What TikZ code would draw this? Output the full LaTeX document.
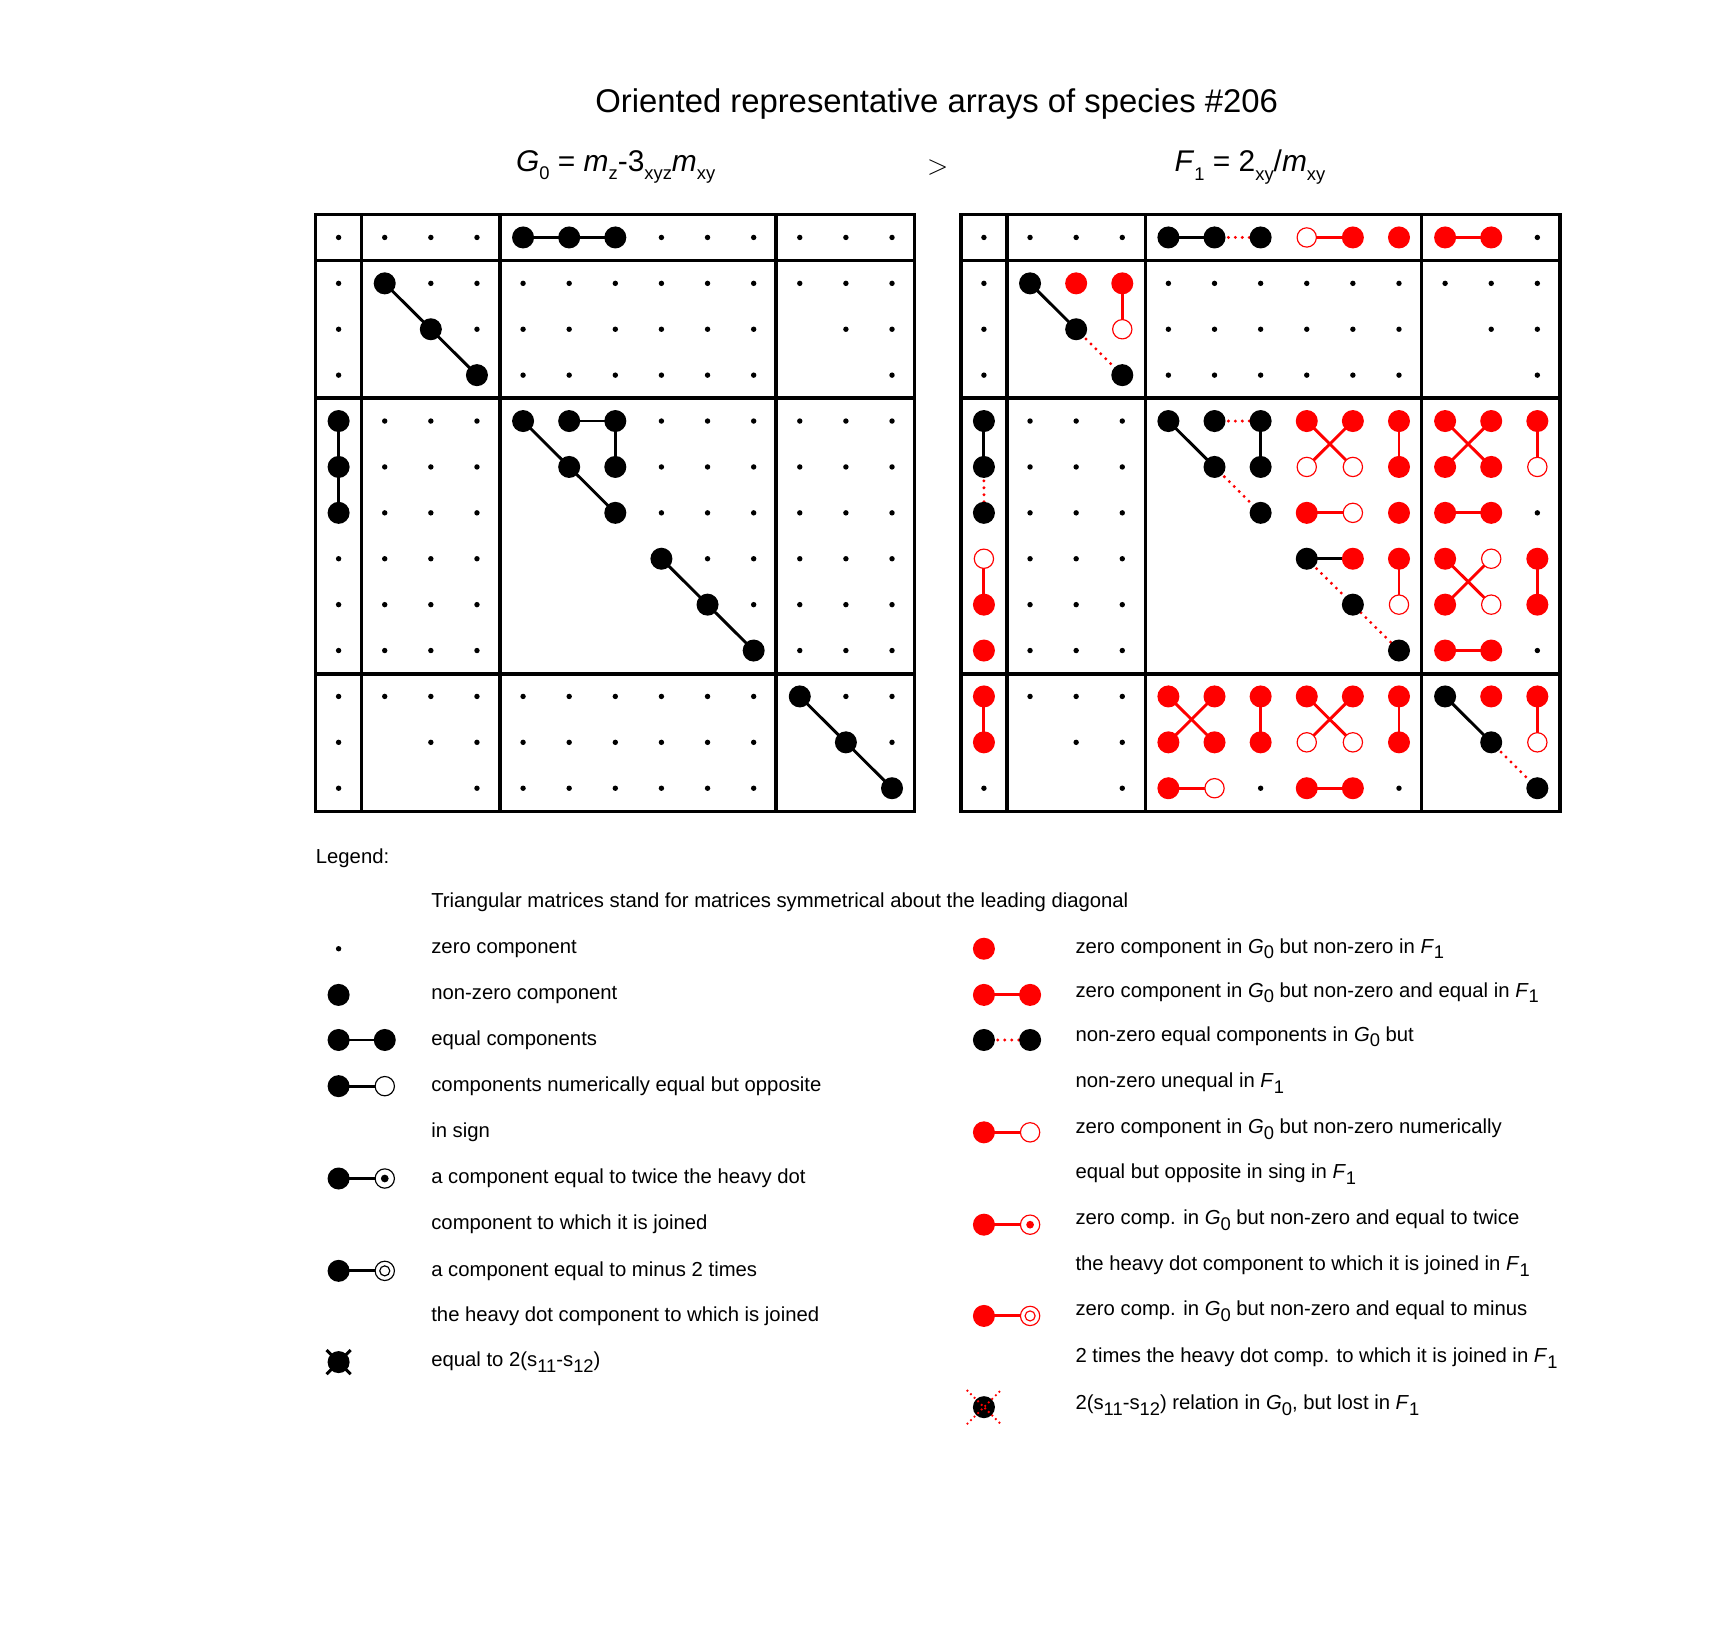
\documentclass[tikz,border=0pt]{standalone}
\usepackage{fontspec}
\setmainfont{Liberation Sans}
\newcommand\lo[1]{\raisebox{-0.55ex}{\fontsize{9.5}{10}\selectfont #1}}
\newcommand\Gz{\textit{G}\lo{0}}
\newcommand\Fo{\textit{F}\lo{1}}
\tikzset{
  sm/.style={fill=black},
  bk/.style={fill=black},
  rd/.style={fill=red},
  ro/.style={draw=red,fill=white,line width=0.6pt},
  bo/.style={draw=black,fill=white,line width=0.6pt},
  bl/.style={line width=1.5pt},
  rl/.style={red,line width=1.5pt},
  rdot/.style={red,line width=1.7pt,line cap=round,dash pattern=on 0pt off 3.6pt},
  frame/.style={line width=1.8pt},
  lgtext/.style={anchor=west,font=\fontsize{10.5}{12}\selectfont,inner sep=0pt},
}
\begin{document}
\begin{tikzpicture}[x=0.02cm,y=-0.02cm,
    declare function={cx(\c)=308+41.95*(\c-1); ry(\r)=216+41.75*(\r-1);}]
\useasboundingbox (0,0) rectangle (1560,1479);

% titles
\node (title) at (852,95) {\fontsize{17}{20}\selectfont Oriented representative arrays of species \#206};
\node (hG) at (560,152) {\fontsize{15.5}{18}\selectfont \Gz{} = \textit{m}\lo{z}-3\lo{xyz}\textit{m}\lo{xy}};
\node (gt) at (853,152) {\fontsize{15.5}{18}\selectfont $>$};
\node (hF) at (1137,152) {\fontsize{15.5}{18}\selectfont \Fo{} = 2\lo{xy}/\textit{m}\lo{xy}};

% grid points of both arrays
\foreach \m/\dx in {L/0,R/587}{
  \foreach \c in {1,...,13}
    \foreach \r in {1,...,13}
      \coordinate (\m-\c-\r) at ({cx(\c)+\dx},{ry(\r)});
  \draw[frame] (287+\dx,195) rectangle (832+\dx,738);
  \foreach \v in {329,455,706}
    \draw[frame] (\v+\dx,195) -- (\v+\dx,738);
  \foreach \h in {237,362,613}
    \draw[frame] (287+\dx,\h) -- (832+\dx,\h);
}

% G0 array
\foreach \c/\r in {1/1,2/1,3/1,4/1,8/1,9/1,10/1,11/1,12/1,13/1,
    1/2,1/3,1/4,3/2,4/2,4/3,11/2,12/2,13/2,12/3,13/3,13/4,
    1/8,1/9,1/10,8/5,9/5,10/5,8/6,9/6,10/6,8/7,9/7,10/7,9/8,10/8,10/9,
    1/11,1/12,1/13,2/11,3/11,4/11,3/12,4/12,4/13,12/11,13/11,13/12}
  \fill[sm] (L-\c-\r) circle (1.4pt);
\foreach \c in {5,...,10}{
  \foreach \r in {2,3,4,11,12,13} \fill[sm] (L-\c-\r) circle (1.4pt);}
\foreach \r in {5,...,10}{
  \foreach \c in {2,3,4,11,12,13} \fill[sm] (L-\c-\r) circle (1.4pt);}
\draw[bl] (L-5-1) -- (L-7-1);
\draw[bl] (L-2-2) -- (L-4-4);
\draw[bl] (L-1-5) -- (L-1-7);
\draw[bl] (L-5-5) -- (L-7-7);
\draw[bl] (L-6-5) -- (L-7-5) -- (L-7-6);
\draw[bl] (L-8-8) -- (L-10-10);
\draw[bl] (L-11-11) -- (L-13-13);
\foreach \c/\r in {5/1,6/1,7/1,2/2,3/3,4/4,1/5,1/6,1/7,5/5,6/5,7/5,6/6,7/6,7/7,
    8/8,9/9,10/10,11/11,12/12,13/13}
  \fill[bk] (L-\c-\r) circle (5.7pt);

% F1 array
\foreach \c/\r in {1/1,2/1,3/1,4/1,13/1,1/2,1/3,1/4,11/2,12/2,13/2,12/3,13/3,13/4,
    13/7,13/10,1/13,2/11,3/11,4/11,3/12,4/12,4/13,7/13,10/13}
  \fill[sm] (R-\c-\r) circle (1.4pt);
\foreach \c in {5,...,10}{
  \foreach \r in {2,3,4} \fill[sm] (R-\c-\r) circle (1.4pt);}
\foreach \r in {5,...,10}{
  \foreach \c in {2,3,4} \fill[sm] (R-\c-\r) circle (1.4pt);}
\foreach \a/\b in {5-1/6-1,2-2/3-3,1-5/1-6,5-5/6-6,7-5/7-6,8-8/9-8,11-11/12-12}
  \draw[bl] (R-\a) -- (R-\b);
\foreach \a/\b in {6-1/7-1,3-3/4-4,1-6/1-7,6-5/7-5,6-6/7-7,8-8/10-10,12-12/13-13}
  \draw[rdot] (R-\a) -- (R-\b);
\foreach \a/\b in {8-1/9-1,11-1/12-1,4-2/4-3,1-8/1-9,8-5/9-6,9-5/8-6,10-5/10-6,
    8-7/9-7,10-8/10-9,11-5/12-6,12-5/11-6,13-5/13-6,11-7/12-7,11-8/12-9,12-8/11-9,
    13-8/13-9,11-10/12-10,1-11/1-12,5-11/6-12,6-11/5-12,7-11/7-12,8-11/9-12,
    9-11/8-12,10-11/10-12,5-13/6-13,8-13/9-13,13-11/13-12}
  \draw[rl] (R-\a) -- (R-\b);
\foreach \c/\r in {5/1,6/1,7/1,2/2,3/3,4/4,1/5,1/6,1/7,5/5,6/5,7/5,6/6,7/6,7/7,
    8/8,9/9,10/10,11/11,12/12,13/13}
  \fill[bk] (R-\c-\r) circle (5.7pt);
\foreach \c/\r in {9/1,10/1,11/1,12/1,3/2,4/2,1/9,1/10,8/5,9/5,10/5,10/6,8/7,10/7,
    9/8,10/8,11/5,12/5,13/5,11/6,12/6,11/7,12/7,11/8,13/8,11/9,13/9,11/10,12/10,
    1/11,1/12,5/11,6/11,5/12,6/12,7/11,7/12,8/11,9/11,10/11,10/12,5/13,8/13,9/13,
    12/11,13/11}
  \fill[rd] (R-\c-\r) circle (5.7pt);
\foreach \c/\r in {8/1,4/3,1/8,8/6,9/6,9/7,10/9,13/6,12/8,12/9,8/12,9/12,6/13,13/12}
  \filldraw[ro] (R-\c-\r) circle (5pt);

% legend
\node[lgtext] (lg) at (287,781) {Legend:};
\node[lgtext] (lg0) at (392,821) {Triangular matrices stand for matrices symmetrical about the leading diagonal};
\foreach \y/\t [count=\i] in {863/zero component,905/non-zero component,946/equal components,
    988/components numerically equal but opposite,1030/in sign,
    1072/a component equal to twice the heavy dot,1114/component to which it is joined,
    1156/a component equal to minus 2 times,1197/the heavy dot component to which is joined}
  \node[lgtext] (lgL\i) at (392,\y) {\t};
\node[lgtext] (lgL10) at (392,1239) {equal to 2(s\lo{11}-s\lo{12})};
\node[lgtext] (lgR1) at (978,863) {zero component in \Gz{} but non-zero in \Fo};
\node[lgtext] (lgR2) at (978,903) {zero component in \Gz{} but non-zero and equal in \Fo};
\node[lgtext] (lgR3) at (978,943) {non-zero equal components in \Gz{} but};
\node[lgtext] (lgR4) at (978,985) {non-zero unequal in \Fo};
\node[lgtext] (lgR5) at (978,1027) {zero component in \Gz{} but non-zero numerically};
\node[lgtext] (lgR6) at (978,1068) {equal but opposite in sing in \Fo};
\node[lgtext] (lgR7) at (978,1110) {zero comp. in \Gz{} but non-zero and equal to twice};
\node[lgtext] (lgR8) at (978,1152) {the heavy dot component to which it is joined in \Fo};
\node[lgtext] (lgR9) at (978,1193) {zero comp. in \Gz{} but non-zero and equal to minus};
\node[lgtext] (lgR10) at (978,1235) {2 times the heavy dot comp. to which it is joined in \Fo};
\node[lgtext] (lgR11) at (978,1278) {2(s\lo{11}-s\lo{12}) relation in \Gz, but lost in \Fo};

% legend symbols, left
\fill[sm] (308,863) circle (1.4pt);
\fill[bk] (308,905) circle (5.7pt);
\foreach \y in {946,988,1072,1156}{
  \draw[bl] (308,\y) -- (350,\y);
  \fill[bk] (308,\y) circle (5.7pt);}
\fill[bk] (350,946) circle (5.7pt);
\filldraw[bo] (350,988) circle (5pt);
\filldraw[bo] (350,1072) circle (5pt);
\fill (350,1072) circle (2pt);
\filldraw[bo] (350,1156) circle (5pt);
\draw[line width=0.6pt] (350,1156) circle (2.6pt);
\fill[bk] (308,1239) circle (5.7pt);
\draw[bl] (297,1228) -- (319,1250) (297,1250) -- (319,1228);
% legend symbols, right
\fill[rd] (895,863) circle (5.7pt);
\foreach \y in {905,1030,1114,1197}{
  \draw[rl] (895,\y) -- (937,\y);
  \fill[rd] (895,\y) circle (5.7pt);}
\fill[rd] (937,905) circle (5.7pt);
\draw[rdot] (895,946) -- (937,946);
\fill[bk] (895,946) circle (5.7pt);
\fill[bk] (937,946) circle (5.7pt);
\filldraw[ro] (937,1030) circle (5pt);
\filldraw[ro] (937,1114) circle (5pt);
\fill[red] (937,1114) circle (2pt);
\filldraw[ro] (937,1197) circle (5pt);
\draw[red,line width=0.6pt] (937,1197) circle (2.6pt);
\fill[bk] (895,1280) circle (5.7pt);
\draw[rdot,line width=1.3pt,dash pattern=on 0pt off 2.6pt] (880,1265) -- (910,1295) (880,1295) -- (910,1265);
\end{tikzpicture}
\end{document}
